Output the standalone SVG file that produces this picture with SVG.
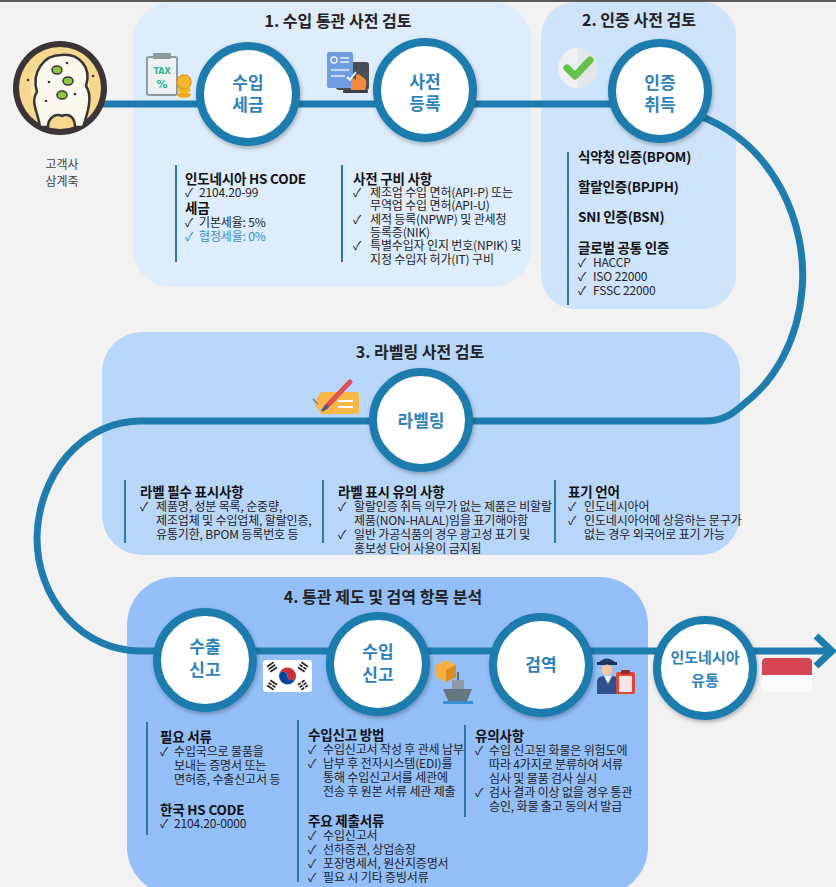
<svg xmlns="http://www.w3.org/2000/svg" width="836" height="887" viewBox="0 0 836 887">
  <defs>
    <style>
      .panel-title { font-family: "Noto Sans CJK KR", sans-serif; font-weight: 700; font-size: 16px; fill: #222; text-anchor: middle; }
      .node-label { font-family: "Noto Sans CJK KR", sans-serif; font-weight: 700; font-size: 17px; fill: #2c82bb; text-anchor: middle; }
      .hd { font-family: "Noto Sans CJK KR", sans-serif; font-weight: 700; font-size: 13.5px; letter-spacing: -0.2px; fill: #111; }
      .tx { font-family: "Noto Sans CJK KR", sans-serif; font-weight: 400; font-size: 12px; letter-spacing: -0.15px; fill: #222; }
      .cap { font-family: "Noto Sans CJK KR", sans-serif; font-weight: 400; font-size: 12px; fill: #444; text-anchor: middle; }
      .rule { stroke: #2b77ad; stroke-width: 2; }
      .ring { fill: #fff; stroke: #1f7cae; stroke-width: 8; filter: url(#shadow); }
      .flow { fill: none; stroke: #1f7cae; stroke-width: 7; }
    </style>
    <filter id="shadow" x="-30%" y="-30%" width="160%" height="160%">
      <feDropShadow dx="1" dy="2" stdDeviation="2" flood-color="#000" flood-opacity="0.3"/>
    </filter>
  </defs>

  <!-- page -->
  <rect x="0" y="0" width="836" height="887" fill="#f2f2f2"/>
  <rect x="0" y="0" width="836" height="2" fill="#5a5a5a"/>

  <!-- stage panels -->
  <g id="panel-1"><rect x="133" y="2" width="398" height="285" rx="38" fill="#ddedfc"/></g>
  <g id="panel-2"><rect x="541" y="2" width="195" height="307" rx="34" fill="#cde4fb"/></g>
  <g id="panel-3"><rect x="102" y="332" width="638" height="223" rx="40" fill="#b9d7fb"/></g>
  <g id="panel-4"><rect x="127" y="577" width="521" height="318" rx="48" fill="#94bff9"/></g>

  <!-- flow line -->
  <g id="connectors">
    <path class="flow" d="M 100,104 L 620,104"/>
    <path class="flow" d="M 700,116 C 775,145 808,225 802,290 C 798,340 775,380 745,403 C 735,412 725,421 705,421 L 140,421 A 103,119 0 0 0 37,538 A 103,113 0 0 0 140,651 L 830,651"/>
    <polyline points="816,636 832,651 816,666" fill="none" stroke="#1f7cae" stroke-width="7"/>
  </g>

  <!-- panel titles -->
  <text class="panel-title" x="338" y="27">1. 수입 통관 사전 검토</text>
  <text class="panel-title" x="639" y="26">2. 인증 사전 검토</text>
  <text class="panel-title" x="420" y="358">3. 라벨링 사전 검토</text>
  <text class="panel-title" x="383" y="603">4. 통관 제도 및 검역 항목 분석</text>

  <!-- customer: bowl of porridge -->
  <g id="customer">
    <circle cx="60" cy="88" r="47" fill="#3b3437"/>
    <circle cx="60" cy="88" r="41" fill="#f6d98e"/>
    <circle cx="60" cy="88" r="30" fill="#f9e6b0"/>
    <path d="M 40,127 C 38,112 30,102 37,92 C 31,72 44,55 61,55 C 79,53 92,67 86,86 C 93,96 88,112 83,127 L 75,127 C 75,118 70,113 62,116 C 55,113 48,118 48,127 Z" fill="#fbf7ec" stroke="#3b3437" stroke-width="2.5" stroke-linejoin="round"/>
    <ellipse cx="57" cy="70" rx="5" ry="4" fill="#8cc63f" stroke="#3b3437" stroke-width="1.5"/>
    <ellipse cx="68" cy="81" rx="5" ry="4" fill="#8cc63f" stroke="#3b3437" stroke-width="1.5"/>
    <ellipse cx="62" cy="95" rx="5" ry="4" fill="#8cc63f" stroke="#3b3437" stroke-width="1.5"/>
    <circle cx="67" cy="63" r="1.3" fill="#3b3437"/><circle cx="49" cy="82" r="1.3" fill="#3b3437"/>
    <circle cx="75" cy="94" r="1.3" fill="#3b3437"/><circle cx="28" cy="80" r="1.3" fill="#3b3437"/>
    <circle cx="93" cy="76" r="1.3" fill="#3b3437"/><circle cx="46" cy="101" r="1.3" fill="#3b3437"/>
    <text class="cap" x="62" y="169">고객사</text>
    <text class="cap" x="62" y="186">삼계죽</text>
  </g>

  <!-- tax icon -->
  <g id="icon-tax">
    <rect x="147" y="57" width="30" height="38" rx="2" fill="#eef1f3" stroke="#8f9aa1" stroke-width="2"/>
    <rect x="153" y="53" width="18" height="6" rx="1" fill="#8f9aa1"/>
    <text x="162" y="74" font-family="DejaVu Sans, sans-serif" font-weight="700" font-size="8" fill="#2fb38c" text-anchor="middle">TAX</text>
    <text x="162" y="88" font-family="DejaVu Sans, sans-serif" font-weight="700" font-size="11" fill="#2fb38c" text-anchor="middle">%</text>
    <ellipse cx="184" cy="95" rx="7" ry="3" fill="#f2a922"/>
    <ellipse cx="184" cy="90" rx="7" ry="3" fill="#f5b82e"/>
    <circle cx="184" cy="82" r="7" fill="#f5b82e" stroke="#e39c1a" stroke-width="1.5"/>
  </g>

  <!-- registration icon -->
  <g id="icon-register">
    <rect x="336" y="62" width="33" height="28" rx="3" fill="#4a4e55"/>
    <rect x="327" y="52" width="26" height="36" rx="2" fill="#6f9de0"/>
    <circle cx="334" cy="60" r="3" fill="none" stroke="#e8f0fb" stroke-width="1.5"/>
    <line x1="340" y1="58" x2="349" y2="58" stroke="#e8f0fb" stroke-width="1.5"/>
    <line x1="340" y1="62" x2="349" y2="62" stroke="#e8f0fb" stroke-width="1.5"/>
    <line x1="331" y1="70" x2="349" y2="70" stroke="#e8f0fb" stroke-width="1.5"/>
    <line x1="331" y1="76" x2="345" y2="76" stroke="#e8f0fb" stroke-width="1.5"/>
    <path d="M 347,77 L 350,80 L 356,72" fill="none" stroke="#fff" stroke-width="1.8"/>
    <path d="M 351,92 L 351,80 Q 354,77 356,80 L 356,75 Q 359,73 361,76 L 364,78 Q 367,80 366,85 L 365,92 Z" fill="#f28b3d"/>
    <rect x="343" y="90" width="25" height="3" rx="1" fill="#3b3f45"/>
  </g>

  <!-- certification icon -->
  <g id="icon-check">
    <circle cx="578" cy="68" r="20" fill="#eef1f4"/>
    <path d="M 578,48 A 20,20 0 0 1 578,88 Z" fill="#e2e7eb"/>
    <path d="M 567,68 L 575,76 L 590,60" fill="none" stroke="#64c24a" stroke-width="7" stroke-linecap="round" stroke-linejoin="round"/>
  </g>

  <!-- label icon -->
  <g id="icon-label">
    <path d="M 321,392 L 356,392 Q 359,392 359,395 L 359,411 Q 359,414 356,414 L 321,414 L 314,403 Z" fill="#f7b84a"/>
    <line x1="338" y1="401" x2="353" y2="401" stroke="#fff" stroke-width="2"/>
    <line x1="338" y1="407" x2="353" y2="407" stroke="#fff" stroke-width="2"/>
    <line x1="326" y1="407" x2="350" y2="382" stroke="#e0505a" stroke-width="5" stroke-linecap="round"/>
    <line x1="323" y1="410" x2="327" y2="406" stroke="#3c5a8a" stroke-width="3" stroke-linecap="round"/>
    <line x1="313" y1="399" x2="318" y2="404" stroke="#5a7ab8" stroke-width="1.2"/>
  </g>

  <!-- korean flag -->
  <g id="icon-flag-kr">
    <rect x="263" y="660" width="49" height="32" rx="3" fill="#ffffff"/>
    <path d="M 279,676 A 8.5,8.5 0 0 1 296,676 A 4.25,4.25 0 0 1 287.5,676 A 4.25,4.25 0 0 0 279,676 Z" fill="#cd2e3a"/>
    <path d="M 279,676 A 8.5,8.5 0 0 0 296,676 A 4.25,4.25 0 0 1 287.5,676 A 4.25,4.25 0 0 0 279,676 Z" fill="#0047a0"/>
    <g stroke="#222" stroke-width="1.6">
      <g transform="rotate(-34 272 667)"><line x1="268" y1="664" x2="276" y2="664"/><line x1="268" y1="667" x2="276" y2="667"/><line x1="268" y1="670" x2="276" y2="670"/></g>
      <g transform="rotate(34 303 667)"><line x1="299" y1="664" x2="307" y2="664"/><line x1="299" y1="667" x2="302.5" y2="667"/><line x1="303.5" y1="667" x2="307" y2="667"/><line x1="299" y1="670" x2="307" y2="670"/></g>
      <g transform="rotate(34 272 685)"><line x1="268" y1="682" x2="276" y2="682"/><line x1="268" y1="685" x2="271.5" y2="685"/><line x1="272.5" y1="685" x2="276" y2="685"/><line x1="268" y1="688" x2="276" y2="688"/></g>
      <g transform="rotate(-34 303 685)"><line x1="299" y1="682" x2="302.5" y2="682"/><line x1="303.5" y1="682" x2="307" y2="682"/><line x1="299" y1="685" x2="302.5" y2="685"/><line x1="303.5" y1="685" x2="307" y2="685"/><line x1="299" y1="688" x2="302.5" y2="688"/><line x1="303.5" y1="688" x2="307" y2="688"/></g>
    </g>
  </g>

  <!-- cargo ship icon -->
  <g id="icon-ship">
    <path d="M 436,665 L 446,660 L 456,665 L 456,677 L 446,682 L 436,677 Z" fill="#f6b040"/>
    <path d="M 446,670 L 456,665 L 456,677 L 446,682 Z" fill="#d98f1f"/>
    <line x1="458" y1="672" x2="458" y2="681" stroke="#5c6b75" stroke-width="2"/>
    <rect x="452" y="680" width="12" height="9" fill="#8b9ba6"/>
    <path d="M 443,689 L 472,689 L 467,701 L 448,701 Z" fill="#66767f"/>
    <rect x="443" y="701" width="30" height="3" fill="#3a8fd6"/>
  </g>

  <!-- customs officer icon -->
  <g id="icon-officer">
    <path d="M 598,663 Q 607,654 616,663 Z" fill="#243a6b"/>
    <rect x="597" y="662" width="20" height="3" fill="#1c2f57"/>
    <circle cx="607" cy="670" r="5.5" fill="#f4c7a0"/>
    <path d="M 597,694 L 597,682 Q 597,676 604,676 L 612,676 Q 619,676 619,682 L 619,694 Z" fill="#2f4f8f"/>
    <path d="M 604,676 L 608,684 L 612,676 Z" fill="#f0f0f0"/>
    <rect x="616" y="672" width="19" height="22" rx="2" fill="#e0453c"/>
    <rect x="619" y="676" width="13" height="16" fill="#f6e7e5"/>
    <rect x="621" y="670" width="9" height="4" rx="1" fill="#9b2a24"/>
  </g>

  <!-- indonesian flag -->
  <g id="icon-flag-id">
    <rect x="762" y="658" width="50" height="34" rx="4" fill="#fbfbfb"/>
    <path d="M 762,675 L 762,662 Q 762,658 766,658 L 808,658 Q 812,658 812,662 L 812,675 Z" fill="#d64553"/>
  </g>

  <!-- stage nodes -->
  <g id="node-import-tax">
    <circle class="ring" cx="248" cy="94" r="48"/>
    <text class="node-label" x="248" y="89">수입</text>
    <text class="node-label" x="248" y="111">세금</text>
  </g>
  <g id="node-pre-registration">
    <circle class="ring" cx="425" cy="90" r="48"/>
    <text class="node-label" x="425" y="88">사전</text>
    <text class="node-label" x="425" y="110">등록</text>
  </g>
  <g id="node-certification">
    <circle class="ring" cx="660" cy="91" r="48"/>
    <text class="node-label" x="660" y="89">인증</text>
    <text class="node-label" x="660" y="111">취득</text>
  </g>
  <g id="node-labeling">
    <circle class="ring" cx="421" cy="420" r="48"/>
    <text class="node-label" x="421" y="427">라벨링</text>
  </g>
  <g id="node-export-declaration">
    <circle class="ring" cx="205" cy="660" r="48"/>
    <text class="node-label" x="205" y="653">수출</text>
    <text class="node-label" x="205" y="676">신고</text>
  </g>
  <g id="node-import-declaration">
    <circle class="ring" cx="378" cy="664" r="48"/>
    <text class="node-label" x="378" y="658">수입</text>
    <text class="node-label" x="378" y="681">신고</text>
  </g>
  <g id="node-quarantine">
    <circle class="ring" cx="541" cy="665" r="48"/>
    <text class="node-label" x="541" y="671">검역</text>
  </g>
  <g id="node-distribution">
    <circle class="ring" cx="705" cy="668" r="48"/>
    <text class="node-label" x="705" y="663" style="font-size:15px">인도네시아</text>
    <text class="node-label" x="705" y="686" style="font-size:15px">유통</text>
  </g>

  <!-- panel 1 notes -->
  <g id="notes-1">
    <line class="rule" x1="176" y1="165" x2="176" y2="262"/>
    <text class="hd" x="185" y="184">인도네시아 HS CODE</text>
    <text class="tx" x="185" y="197">✓<tspan x="199">2104.20-99</tspan></text>
    <text class="hd" x="185" y="213">세금</text>
    <text class="tx" x="185" y="227">✓<tspan x="199">기본세율: 5%</tspan></text>
    <text class="tx" x="185" y="241" style="fill:#3a8cc4">✓<tspan x="199">협정세율: 0%</tspan></text>

    <line class="rule" x1="342" y1="165" x2="342" y2="262"/>
    <text class="hd" x="353" y="184">사전 구비 사항</text>
    <text class="tx" x="353" y="197">✓<tspan x="370">제조업 수입 면허(API-P) 또는</tspan></text>
    <text class="tx" x="370" y="210">무역업 수입 면허(API-U)</text>
    <text class="tx" x="353" y="224">✓<tspan x="370">세적 등록(NPWP) 및 관세청</tspan></text>
    <text class="tx" x="370" y="237">등록증(NIK)</text>
    <text class="tx" x="353" y="250">✓<tspan x="370">특별수입자 인지 번호(NPIK) 및</tspan></text>
    <text class="tx" x="370" y="264">지정 수입자 허가(IT) 구비</text>
  </g>

  <!-- panel 2 notes -->
  <g id="notes-2">
    <line class="rule" x1="568" y1="152" x2="568" y2="305"/>
    <text class="hd" x="578" y="162">식약청 인증(BPOM)</text>
    <text class="hd" x="578" y="192">할랄인증(BPJPH)</text>
    <text class="hd" x="578" y="222">SNI 인증(BSN)</text>
    <text class="hd" x="578" y="253">글로벌 공통 인증</text>
    <text class="tx" x="578" y="267">✓<tspan x="593">HACCP</tspan></text>
    <text class="tx" x="578" y="281">✓<tspan x="593">ISO 22000</tspan></text>
    <text class="tx" x="578" y="295">✓<tspan x="593">FSSC 22000</tspan></text>
  </g>

  <!-- panel 3 notes -->
  <g id="notes-3">
    <line class="rule" x1="125" y1="480" x2="125" y2="543"/>
    <text class="hd" x="140" y="497">라벨 필수 표시사항</text>
    <text class="tx" x="140" y="511">✓<tspan x="156">제품명, 성분 목록, 순중량,</tspan></text>
    <text class="tx" x="156" y="525">제조업체 및 수입업체, 할랄인증,</text>
    <text class="tx" x="156" y="539">유통기한, BPOM 등록번호 등</text>

    <line class="rule" x1="323" y1="480" x2="323" y2="543"/>
    <text class="hd" x="338" y="497">라벨 표시 유의 사항</text>
    <text class="tx" x="338" y="511">✓<tspan x="354">할랄인증 취득 의무가 없는 제품은 비할랄</tspan></text>
    <text class="tx" x="354" y="525">제품(NON-HALAL)임을 표기해야함</text>
    <text class="tx" x="338" y="539">✓<tspan x="354">일반 가공식품의 경우 광고성 표기 및</tspan></text>
    <text class="tx" x="354" y="553">홍보성 단어 사용이 금지됨</text>

    <line class="rule" x1="555" y1="480" x2="555" y2="543"/>
    <text class="hd" x="568" y="497">표기 언어</text>
    <text class="tx" x="568" y="511">✓<tspan x="584">인도네시아어</tspan></text>
    <text class="tx" x="568" y="525">✓<tspan x="584">인도네시아어에 상응하는 문구가</tspan></text>
    <text class="tx" x="584" y="539">없는 경우 외국어로 표기 가능</text>
  </g>

  <!-- panel 4 notes -->
  <g id="notes-4">
    <line class="rule" x1="147" y1="722" x2="147" y2="835"/>
    <text class="hd" x="160" y="742">필요 서류</text>
    <text class="tx" x="160" y="756">✓<tspan x="174">수입국으로 물품을</tspan></text>
    <text class="tx" x="174" y="770">보내는 증명서 또는</text>
    <text class="tx" x="174" y="784">면허증, 수출신고서 등</text>
    <text class="hd" x="160" y="815">한국 HS CODE</text>
    <text class="tx" x="160" y="828">✓<tspan x="174">2104.20-0000</tspan></text>

    <line class="rule" x1="298" y1="720" x2="298" y2="882"/>
    <text class="hd" x="308" y="740">수입신고 방법</text>
    <text class="tx" x="308" y="754">✓<tspan x="323">수입신고서 작성 후 관세 납부</tspan></text>
    <text class="tx" x="308" y="768">✓<tspan x="323">납부 후 전자시스템(EDI)를</tspan></text>
    <text class="tx" x="323" y="782">통해 수입신고서를 세관에</text>
    <text class="tx" x="323" y="796">전송 후 원본 서류 세관 제출</text>
    <text class="hd" x="308" y="826">주요 제출서류</text>
    <text class="tx" x="308" y="840">✓<tspan x="323">수입신고서</tspan></text>
    <text class="tx" x="308" y="854">✓<tspan x="323">선하증권, 상업송장</tspan></text>
    <text class="tx" x="308" y="868">✓<tspan x="323">포장명세서, 원산지증명서</tspan></text>
    <text class="tx" x="308" y="882">✓<tspan x="323">필요 시 기타 증빙서류</tspan></text>

    <line class="rule" x1="465" y1="725" x2="465" y2="817"/>
    <text class="hd" x="475" y="741">유의사항</text>
    <text class="tx" x="475" y="755">✓<tspan x="489">수입 신고된 화물은 위험도에</tspan></text>
    <text class="tx" x="489" y="769">따라 4가지로 분류하여 서류</text>
    <text class="tx" x="489" y="783">심사 및 물품 검사 실시</text>
    <text class="tx" x="475" y="797">✓<tspan x="489">검사 결과 이상 없을 경우 통관</tspan></text>
    <text class="tx" x="489" y="811">승인, 화물 출고 동의서 발급</text>
  </g>
</svg>
